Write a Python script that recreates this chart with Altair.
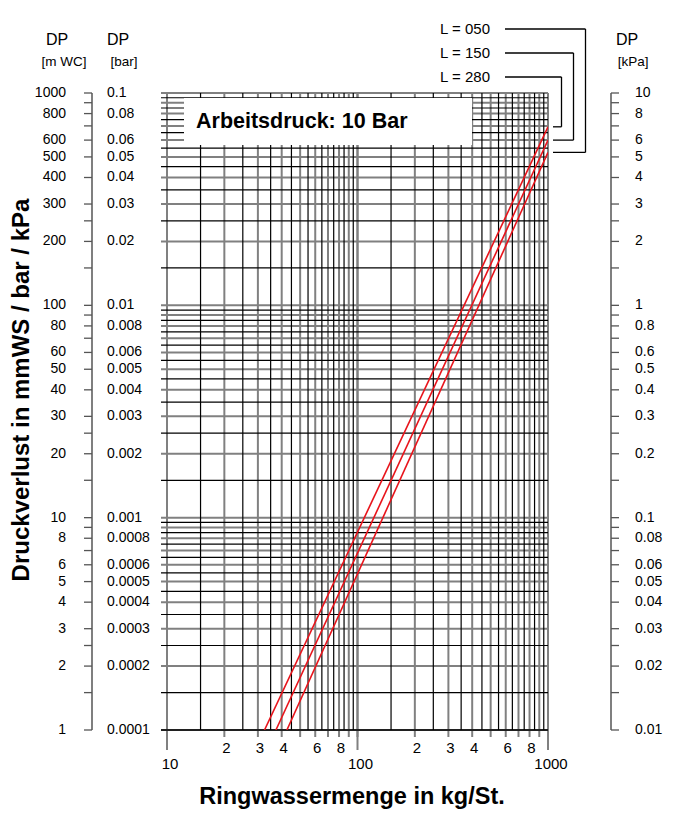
import altair as alt
import pandas as pd

# ---------------- data ----------------
series = ["L = 280", "L = 150", "L = 050"]
flow_start = [32.5, 37.3, 42.6]          # kg/St. at bottom edge
dp_start = [0.0001, 0.0001, 0.0001]      # bar
flow_end = [1000, 1000, 1000]
dp_end = [0.0693, 0.0600, 0.0525]        # bar at right edge

x_lab_vals = [20, 30, 40, 60, 80, 200, 300, 400, 600, 800]
x_lab_text = ["2", "3", "4", "6", "8", "2", "3", "4", "6", "8"]
x_major_vals = [10, 100, 1000]
x_major_text = ["10", "100", "1000"]

y_lab_bar = [0.0001, 0.0002, 0.0003, 0.0004, 0.0005, 0.0006, 0.0008,
             0.001, 0.002, 0.003, 0.004, 0.005, 0.006, 0.008,
             0.01, 0.02, 0.03, 0.04, 0.05, 0.06, 0.08, 0.1]
y_lab_mwc = ["1", "2", "3", "4", "5", "6", "8",
             "10", "20", "30", "40", "50", "60", "80",
             "100", "200", "300", "400", "500", "600", "800", "1000"]
y_lab_bar_text = ["0.0001", "0.0002", "0.0003", "0.0004", "0.0005", "0.0006", "0.0008",
                  "0.001", "0.002", "0.003", "0.004", "0.005", "0.006", "0.008",
                  "0.01", "0.02", "0.03", "0.04", "0.05", "0.06", "0.08", "0.1"]
y_lab_kpa = ["0.01", "0.02", "0.03", "0.04", "0.05", "0.06", "0.08",
             "0.1", "0.2", "0.3", "0.4", "0.5", "0.6", "0.8",
             "1", "2", "3", "4", "5", "6", "8", "10"]

grid_major_mult = [1, 2, 3, 4, 5, 6, 7, 8, 9]
grid_minor_mult = [1.5, 2.5, 3.5, 4.5, 5.5, 6.5, 7.5, 8.5, 9.5]
tick_mult = [1, 1.5, 2, 2.5, 3, 4, 5, 6, 7, 8, 9]
x_decades = [10, 100]
y_decades = [0.0001, 0.001, 0.01]

# ---------------- layout ----------------
W, H = 381, 637
FONT = "Liberation Sans"
BFONT = "Liberation Sans"
FS = 14
xs = alt.Scale(type="log", domain=[10, 1000], nice=False)
ys = alt.Scale(type="log", domain=[0.0001, 0.1], nice=False)

GRAY = "#808080"

vx_major = pd.DataFrame({"x": [m * d for d in x_decades for m in grid_major_mult] + [1000]})
vx_minor = pd.DataFrame({"x": [m * d for d in x_decades for m in grid_minor_mult]})
hy_major = pd.DataFrame({"y": [m * d for d in y_decades for m in grid_major_mult] + [0.1]})
hy_minor = pd.DataFrame({"y": [m * d for d in y_decades for m in grid_minor_mult]})
ticks_y = pd.DataFrame({"y": [m * d for d in y_decades for m in tick_mult] + [0.1]})

X = lambda f: alt.X(f, scale=xs, axis=None)
Y = lambda f: alt.Y(f, scale=ys, axis=None)

layers = []

# grid
layers.append(alt.Chart(vx_major).mark_rule(color=GRAY, strokeWidth=2).encode(
    x=X("x:Q"), y=alt.value(0), y2=alt.value(H + 7)))
layers.append(alt.Chart(pd.DataFrame({"x": x_major_vals})).mark_rule(color=GRAY, strokeWidth=2).encode(
    x=X("x:Q"), y=alt.value(0), y2=alt.value(H + 20)))
layers.append(alt.Chart(hy_major).mark_rule(color=GRAY, strokeWidth=2).encode(
    y=Y("y:Q"), x=alt.value(-6), x2=alt.value(W)))
layers.append(alt.Chart(vx_minor).mark_rule(color="black", strokeWidth=1.2).encode(
    x=X("x:Q"), y=alt.value(0), y2=alt.value(H)))
layers.append(alt.Chart(hy_minor).mark_rule(color="black", strokeWidth=1.2).encode(
    y=Y("y:Q"), x=alt.value(-6), x2=alt.value(W)))
layers.append(alt.Chart(pd.DataFrame({"y": [0.0001]})).mark_rule(color="black", strokeWidth=1.5).encode(
    y=Y("y:Q"), x=alt.value(-6), x2=alt.value(W)))

# white box with pressure note
one = pd.DataFrame({"t": ["Arbeitsdruck: 10 Bar"]})
layers.append(alt.Chart(one).mark_rect(color="white").encode(
    x=alt.value(17), x2=alt.value(305), y=alt.value(5), y2=alt.value(52)))
layers.append(alt.Chart(one).mark_text(align="left", baseline="middle", font=BFONT,
                                       fontWeight="bold", fontSize=21.5, color="black").encode(
    x=alt.value(29), y=alt.value(29), text="t:N"))

# red curves
curves = pd.DataFrame({
    "series": series + series,
    "flow": flow_start + flow_end,
    "dp": dp_start + dp_end,
})
layers.append(alt.Chart(curves).mark_line(color="#e8141b", strokeWidth=1.6, clip=True).encode(
    x=X("flow:Q"), y=Y("dp:Q"), detail="series:N"))

# legend texts with leader lines
legend_y = {"L = 050": -64, "L = 150": -40, "L = 280": -16}
legend_x = {"L = 050": 418.5, "L = 150": 406.5, "L = 280": 394.5}
for s, e in zip(series, dp_end):
    d = pd.DataFrame({"series": [s], "dp": [e]})
    ly, lx = legend_y[s], legend_x[s]
    layers.append(alt.Chart(d).mark_text(align="right", baseline="middle", font=FONT,
                                         fontSize=15, color="black").encode(
        x=alt.value(323), y=alt.value(ly), text="series:N"))
    layers.append(alt.Chart(d).mark_rule(color="black", strokeWidth=1.3).encode(
        x=alt.value(338), x2=alt.value(lx), y=alt.value(ly)))
    layers.append(alt.Chart(d).mark_rule(color="black", strokeWidth=1.3).encode(
        x=alt.value(lx), y=Y("dp:Q"), y2=alt.value(ly)))
    layers.append(alt.Chart(d).mark_rule(color="black", strokeWidth=1.3).encode(
        x=alt.value(386), x2=alt.value(lx), y=Y("dp:Q")))

# left axis (m WC / bar)
AXC = "#555555"
layers.append(alt.Chart(pd.DataFrame({"y": [0.0001]})).mark_rule(color=AXC, strokeWidth=1.5).encode(
    x=alt.value(-75), y=alt.value(0), y2=alt.value(H)))
layers.append(alt.Chart(ticks_y).mark_rule(color=AXC, strokeWidth=1.3).encode(
    y=Y("y:Q"), x=alt.value(-83), x2=alt.value(-75)))
ylabs = pd.DataFrame({"y": y_lab_bar, "mwc": y_lab_mwc, "bar": y_lab_bar_text, "kpa": y_lab_kpa})
layers.append(alt.Chart(ylabs).mark_text(align="right", baseline="middle", font=FONT,
                                         fontSize=FS, color="black").encode(
    y=Y("y:Q"), x=alt.value(-101), text="mwc:N"))
layers.append(alt.Chart(ylabs).mark_text(align="left", baseline="middle", font=FONT,
                                         fontSize=FS, color="black").encode(
    y=Y("y:Q"), x=alt.value(-60), text="bar:N"))

# right axis (kPa)
layers.append(alt.Chart(pd.DataFrame({"y": [0.0001]})).mark_rule(color=AXC, strokeWidth=1.5).encode(
    x=alt.value(444), y=alt.value(0), y2=alt.value(H)))
layers.append(alt.Chart(ticks_y).mark_rule(color=AXC, strokeWidth=1.3).encode(
    y=Y("y:Q"), x=alt.value(444), x2=alt.value(452)))
layers.append(alt.Chart(ylabs).mark_text(align="left", baseline="middle", font=FONT,
                                         fontSize=FS, color="black").encode(
    y=Y("y:Q"), x=alt.value(468), text="kpa:N"))

# x labels
xl = pd.DataFrame({"x": x_lab_vals, "t": x_lab_text})
layers.append(alt.Chart(xl).mark_text(align="center", baseline="middle", font=FONT,
                                      fontSize=15, color="black", dx=2).encode(
    x=X("x:Q"), y=alt.value(655), text="t:N"))
xm = pd.DataFrame({"x": x_major_vals, "t": x_major_text})
layers.append(alt.Chart(xm).mark_text(align="center", baseline="middle", font=FONT,
                                      fontSize=15, color="black", dx=3).encode(
    x=X("x:Q"), y=alt.value(671), text="t:N"))

# headers
hdr = pd.DataFrame({"t": ["DP", "DP", "DP"], "u": ["[m WC]", "[bar]", "[kPa]"]})
for i, (hx, ux) in enumerate([(-110, -103), (-49, -43), (460, 466)]):
    d = hdr.iloc[[i]]
    layers.append(alt.Chart(d).mark_text(align="center", baseline="middle", font=FONT,
                                         fontSize=16, color="black").encode(
        x=alt.value(hx), y=alt.value(-53), text="t:N"))
    layers.append(alt.Chart(d).mark_text(align="center", baseline="middle", font=FONT,
                                         fontSize=13.5, color="black").encode(
        x=alt.value(ux), y=alt.value(-31), text="u:N"))

# titles
layers.append(alt.Chart(pd.DataFrame({"t": ["Ringwassermenge in kg/St."]})).mark_text(
    align="center", baseline="middle", font=BFONT, fontWeight="bold", fontSize=23.5, color="black").encode(
    x=alt.value(185), y=alt.value(704), text="t:N"))
layers.append(alt.Chart(pd.DataFrame({"t": ["Druckverlust in mmWS / bar / kPa"]})).mark_text(
    align="center", baseline="middle", font=BFONT, fontWeight="bold", fontSize=24, color="black",
    angle=270).encode(
    x=alt.value(-145), y=alt.value(297), text="t:N"))

chart = alt.layer(*layers).properties(
    width=W, height=H,
    padding={"left": 159, "top": 85, "right": 118, "bottom": 84},
    autosize=alt.AutoSizeParams(type="none"),
    background="white",
).configure_view(stroke=None)

chart.save("out.html", embed_options={"renderer": "svg", "actions": False})
